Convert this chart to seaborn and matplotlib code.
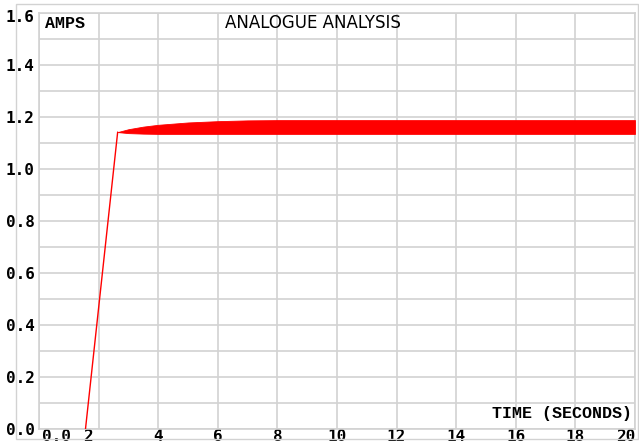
import matplotlib
matplotlib.use("Agg")
import matplotlib.pyplot as plt
from matplotlib.patches import Rectangle
from matplotlib.transforms import ScaledTranslation
from matplotlib.font_manager import FontProperties
import numpy as np
import pandas as pd
import seaborn as sns

# Ramp of the current (seconds, amps)
ramp_t = [1.56, 2.64]
ramp_a = [0.0, 1.142]

# Envelope of the fast ripple once the current has risen
band_t = [2.64, 3.0, 3.5, 4.0, 5.0, 6.0, 7.0, 8.0, 20.0]
band_hi = [1.142, 1.153, 1.163, 1.170, 1.179, 1.184, 1.187, 1.188, 1.188]
band_lo = [1.142, 1.138, 1.136, 1.135, 1.135, 1.135, 1.135, 1.135, 1.135]

x_ticks = [0, 2, 4, 6, 8, 10, 12, 14, 16, 18, 20]
x_labels = ["0.0", "2", "4", "6", "8", "10", "12", "14", "16", "18", "20"]
y_ticks = [round(0.1 * i, 1) for i in range(17)]
y_labels = [f"{v:.1f}" if i % 2 == 0 else "" for i, v in enumerate(y_ticks)]

sns.set_style("white")
GRID = "#d2d2d2"
RED = "#ff0000"

fig = plt.figure(figsize=(6.39, 4.47), dpi=100)
ax = fig.add_axes([39 / 639, 18 / 447, 596 / 639, 416 / 447])

# outer frame around the whole graph
fig.patches.append(Rectangle((16 / 639, 8 / 447), 622 / 639, 435 / 447,
                             transform=fig.transFigure, fill=False,
                             edgecolor=GRID, linewidth=1.0))

ramp = pd.DataFrame({"t": ramp_t, "a": ramp_a})
sns.lineplot(data=ramp, x="t", y="a", ax=ax, color=RED, linewidth=1.0, zorder=3)
ax.fill_between(band_t, band_lo, band_hi, color=RED, linewidth=0.6,
                edgecolor=RED, zorder=3)

ax.set_xlim(0, 20)
ax.set_ylim(0, 1.6)
ax.set_xlabel("")
ax.set_ylabel("")

ax.set_xticks(x_ticks)
ax.set_xticklabels(x_labels)
ax.set_yticks(y_ticks)
ax.set_yticklabels(y_labels)
ax.set_xticks(np.arange(0, 20.01, 0.2), minor=True)
ax.set_yticks(np.arange(0, 1.601, 0.01), minor=True)

tick_fp = FontProperties(family="DejaVu Sans Mono", weight="bold", size=11.5)
for lab in ax.get_xticklabels() + ax.get_yticklabels():
    lab.set_fontproperties(tick_fp)
    lab.set_color("black")

ax.tick_params(axis="both", which="major", length=0, colors="black")
ax.tick_params(axis="x", which="major", pad=0)
ax.tick_params(axis="y", which="major", pad=3)
ax.tick_params(axis="both", which="minor", length=2, width=0.6,
               direction="in", color="#b0b0b0")

# nudge a few x labels the way the plotter places them
shifts = {0: 0.17, 1: -0.11, 10: -0.09}
for i, lab in enumerate(ax.get_xticklabels()):
    if i in shifts:
        lab.set_transform(lab.get_transform() +
                          ScaledTranslation(shifts[i], 0, fig.dpi_scale_trans))
top_lab = ax.get_yticklabels()[-1]
top_lab.set_transform(top_lab.get_transform() +
                      ScaledTranslation(0, -0.03, fig.dpi_scale_trans))

ax.grid(True, which="major", color=GRID, linewidth=1.2)
ax.set_axisbelow(True)
for s in ax.spines.values():
    s.set_color(GRID)
    s.set_linewidth(1.2)

ax.text(6 / 596, 1 - 3 / 416, "AMPS", transform=ax.transAxes,
        ha="left", va="top", family="Liberation Mono", weight="bold",
        size=12, color="black")
ax.text(0.46, 1 - 1 / 416, "ANALOGUE ANALYSIS", transform=ax.transAxes,
        ha="center", va="top", family="DejaVu Sans", size=12, color="black")
ax.text(1 - 3 / 596, 8 / 416, "TIME (SECONDS)", transform=ax.transAxes,
        ha="right", va="bottom", family="Liberation Mono", weight="bold",
        size=12, color="black")

fig.savefig("out.png", dpi=100)
